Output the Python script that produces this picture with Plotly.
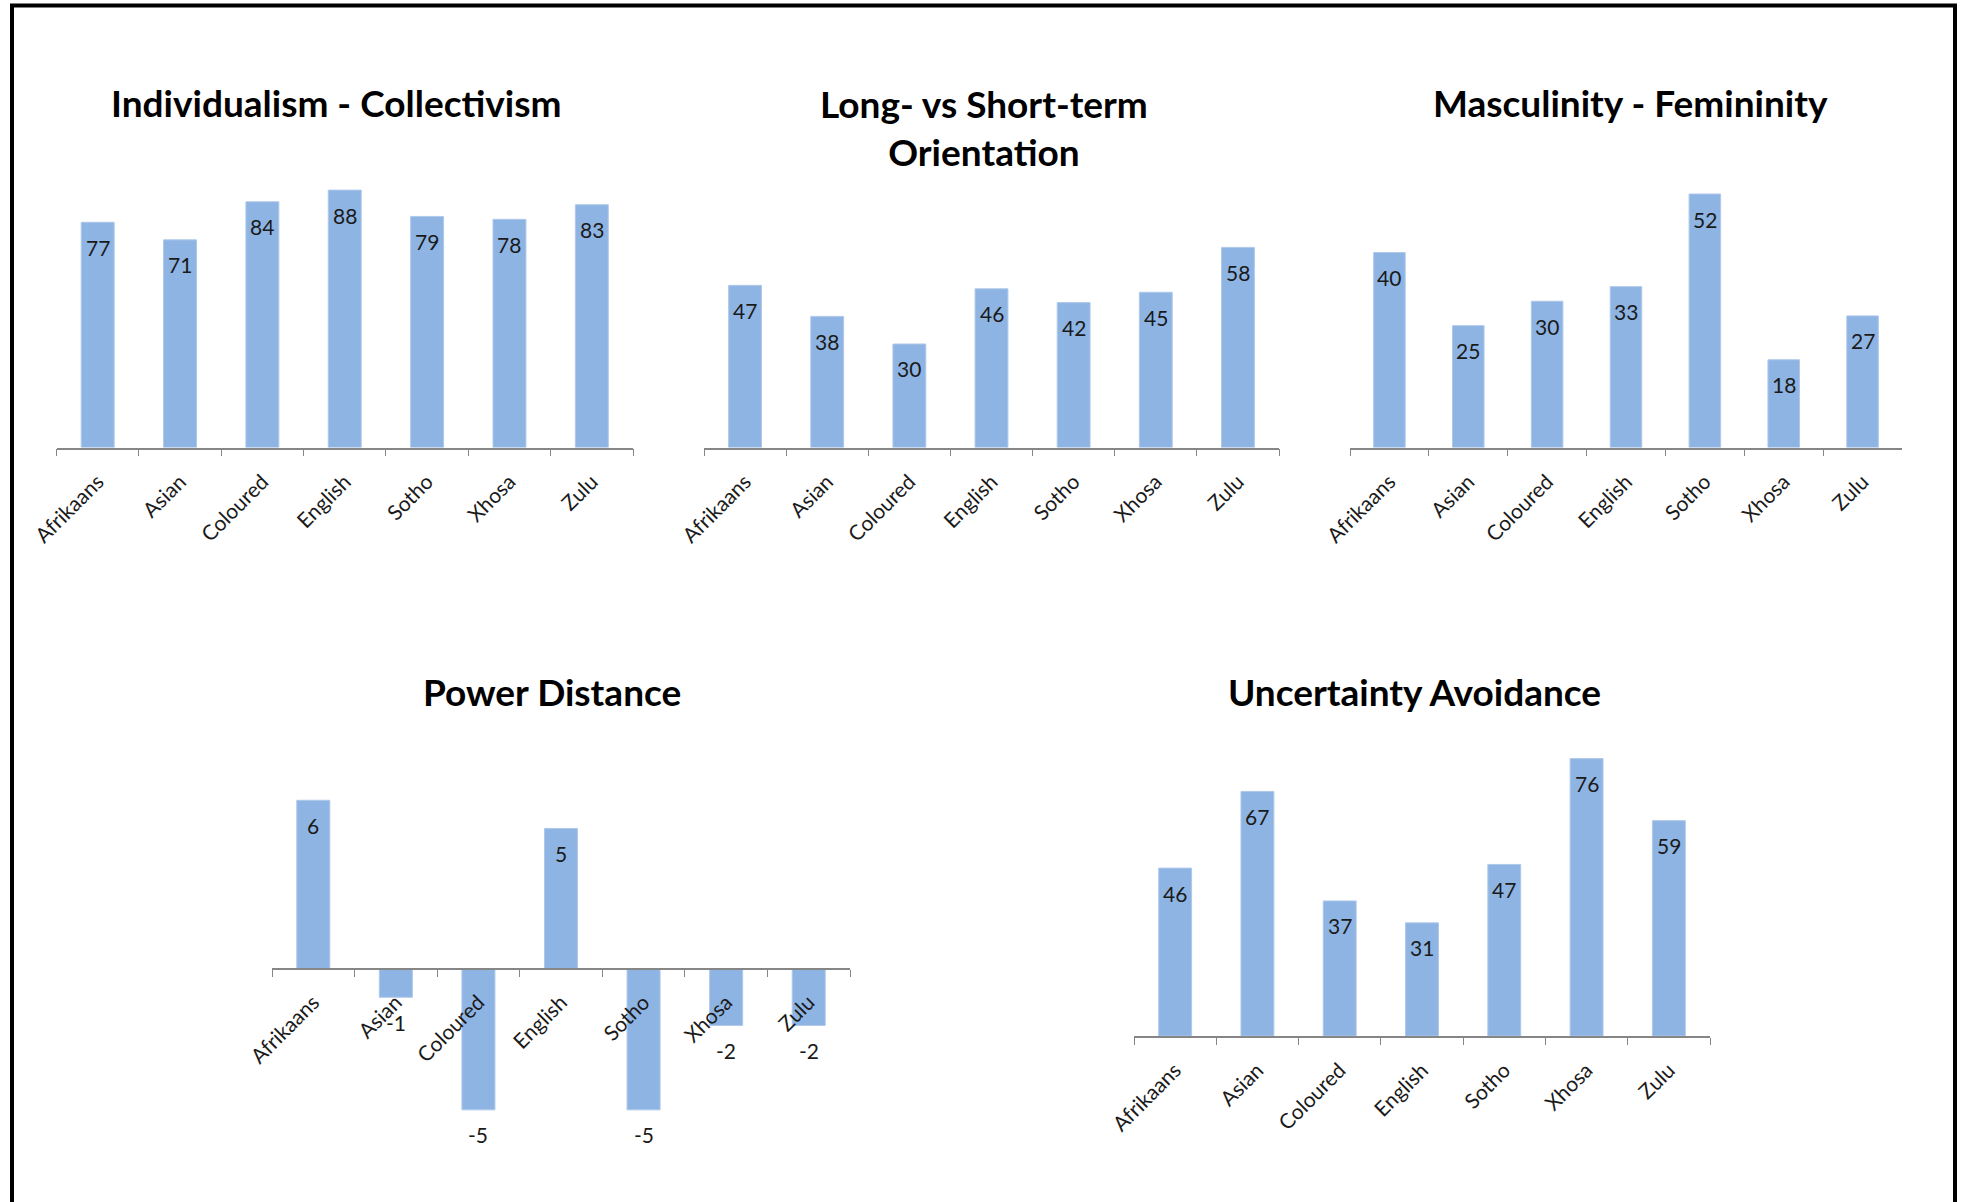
import plotly.graph_objects as go

# Cultural dimension scores by language group
groups = ["Afrikaans", "Asian", "Coloured", "English", "Sotho", "Xhosa", "Zulu"]

individualism = [77, 71, 84, 88, 79, 78, 83]
long_short_term = [47, 38, 30, 46, 42, 45, 58]
masculinity = [40, 25, 30, 33, 52, 18, 27]
power_distance = [6, -1, -5, 5, -5, -2, -2]
uncertainty_avoidance = [46, 67, 37, 31, 47, 76, 59]

titles = [
    "Individualism - Collectivism",
    "Long- vs Short-term<br>Orientation",
    "Masculinity - Femininity",
    "Power Distance",
    "Uncertainty Avoidance",
]
series = [individualism, long_short_term, masculinity, power_distance, uncertainty_avoidance]
y_ranges = [[0, 100], [0, 70], [0, 60], [-6, 8], [0, 80]]

W, H = 1961, 1202
BAR = "#8EB4E3"
AXIS = "#868686"
FONT = "Lato"


def fx(p):
    return p / W


def fy(p):
    return 1 - p / H


# panel boxes in pixels: (left, right, top, bottom) of each plotting area
boxes = [
    (56.5, 633, 155, 447.5),
    (704, 1279, 206, 447.5),
    (1350, 1902, 155, 447.5),
    (272, 850, 744, 1138),
    (1134, 1710, 744, 1036),
]
# title centres in pixels
title_pos = [(336, 102), (984, 127), (1630, 102), (552, 691), (1414, 691)]

fig = go.Figure()
layout = dict(
    width=W,
    height=H,
    autosize=False,
    margin=dict(l=0, r=0, t=0, b=0, pad=0, autoexpand=False),
    paper_bgcolor="white",
    plot_bgcolor="rgba(0,0,0,0)",
    showlegend=False,
    font=dict(family=FONT, color="#1a1a1a"),
)
annotations = []

for i, (vals, rng, box, title, tpos) in enumerate(zip(series, y_ranges, boxes, titles, title_pos)):
    n = "" if i == 0 else str(i + 1)
    xa, ya = "x" + n, "y" + n
    left, right, top, bottom = box
    ydom = [fy(bottom), fy(top)]

    fig.add_trace(go.Bar(
        x=groups, y=vals, xaxis=xa, yaxis=ya,
        marker=dict(color=BAR, line=dict(color="#AFC8EA", width=1)),
        width=0.4, hoverinfo="x+y",
    ))

    xaxis = dict(
        domain=[fx(left), fx(right)],
        type="category",
        range=[-0.5, len(groups) - 0.5],
        showline=True, linecolor=AXIS, linewidth=1.5,
        ticks="outside", tickson="boundaries", ticklen=7, tickcolor=AXIS, tickwidth=1,
        tickangle=-45, ticklabelstandoff=12,
        tickfont=dict(family=FONT, size=21, color="#1a1a1a"),
        showgrid=False, zeroline=False, fixedrange=True, automargin=False,
    )
    if rng[0] < 0:
        # baseline sits at zero inside the panel
        zero_frac = ydom[0] + (0 - rng[0]) / (rng[1] - rng[0]) * (ydom[1] - ydom[0])
        xaxis.update(anchor="free", position=zero_frac)
    else:
        xaxis.update(anchor=ya)
    layout["xaxis" + n] = xaxis
    layout["yaxis" + n] = dict(
        domain=ydom, range=rng, visible=False, anchor=xa, fixedrange=True,
        automargin=False,
    )

    # value labels just past the end of each bar
    for g, v in zip(groups, vals):
        annotations.append(dict(
            x=g, y=v, xref=xa, yref=ya, text=str(v), showarrow=False,
            yanchor="middle", yshift=-25,
            font=dict(family=FONT, size=21, color="#1a1a1a"),
        ))

    annotations.append(dict(
        x=fx(tpos[0]), y=fy(tpos[1]), xref="paper", yref="paper",
        text="<b>" + title + "</b>", showarrow=False,
        xanchor="center", yanchor="middle",
        font=dict(family=FONT, size=37, color="black"),
    ))

layout["annotations"] = annotations

# heavy frame around the whole graphic (open at the bottom)
frame = dict(type="line", xref="paper", yref="paper", line=dict(color="black", width=4))
layout["shapes"] = [
    dict(frame, x0=fx(12), x1=fx(12), y0=0, y1=fy(5.5)),
    dict(frame, x0=fx(10), x1=fx(1957), y0=fy(5.5), y1=fy(5.5)),
    dict(frame, x0=fx(1955), x1=fx(1955), y0=0, y1=fy(5.5)),
]

fig.update_layout(**layout)
fig.write_html("out.html")
